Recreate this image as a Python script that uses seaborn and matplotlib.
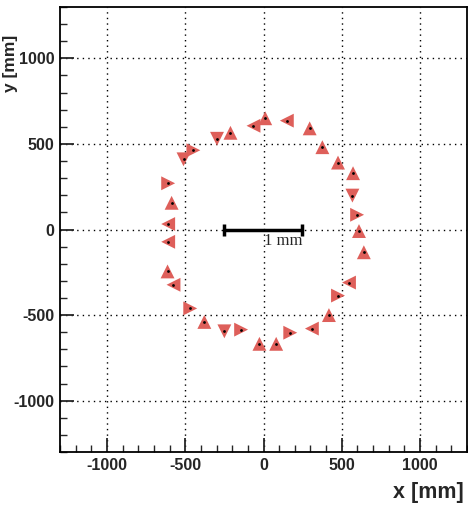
import numpy as np
import pandas as pd
import matplotlib
matplotlib.use("Agg")
import matplotlib.pyplot as plt
from matplotlib.ticker import MultipleLocator
import seaborn as sns

# ---- data ----
x_mm = [-64, -211, -297, -448, -511, -609, -587, -609,
        11, 149, 295, 376, 476, 572, 568, 598, 610,
        -609, -613, -575, -468, -378, -250, -143, -26,
        641, 546, 476, 418, 309, 171, 81]
y_mm = [606, 565, 530, 463, 410, 270, 156, 32,
        650, 636, 591, 481, 391, 329, 198, 86, -9,
        -72, -245, -323, -461, -540, -595, -585, -668,
        -133, -310, -386, -500, -579, -603, -668]
orient = ['<', '^', 'v', '>', 'v', '>', '^', '<',
          '^', '<', '^', '^', '^', '^', 'v', '>', '^',
          '<', '^', '<', '>', '^', 'v', '>', '^',
          '^', '<', '>', '^', '<', '>', '^']
scale_bar_x = [-250, 245]
scale_bar_label = "1 mm"
ticks = [-1000, -500, 0, 500, 1000]

df = pd.DataFrame({"x": x_mm, "y": y_mm, "o": orient})

sns.set_style("white")
plt.rcParams['font.family'] = ['Liberation Sans', 'DejaVu Sans']

fig = plt.figure(figsize=(4.68, 5.07), dpi=100)
ax = fig.add_axes([60/468, 1-452/507, 407/468, 445/507])

# grid
for t in ticks:
    ax.axvline(t, color='black', lw=1.0, ls=(0, (1, 3)), zorder=0)
    ax.axhline(t, color='black', lw=1.0, ls=(0, (1, 3)), zorder=0)

sns.scatterplot(data=df, x="x", y="y", style="o",
                markers={m: m for m in ['^', 'v', '<', '>']},
                color='#DE5F5A', s=100, linewidth=0, legend=False, ax=ax, zorder=3)
sns.scatterplot(data=df, x="x", y="y", color='black', s=4, linewidth=0,
                legend=False, ax=ax, zorder=4)

# scale bar
ax.plot(scale_bar_x, [0, 0], color='black', lw=2.5, zorder=5)
ax.plot(scale_bar_x, [0, 0], ls='none', marker='|', ms=8, mew=2.5, color='black', zorder=5)
ax.text(6, -18, scale_bar_label, ha='left', va='top', fontsize=12,
        family=['Liberation Serif'], zorder=5)

ax.set_xlim(-1300, 1300)
ax.set_ylim(-1300, 1300)
ax.set_xticks(ticks)
ax.set_yticks(ticks)
ax.xaxis.set_minor_locator(MultipleLocator(100))
ax.yaxis.set_minor_locator(MultipleLocator(100))
ax.set_xticklabels([str(t) for t in ticks], fontweight='bold', fontsize=11.5)
ax.set_yticklabels([str(t) for t in ticks], fontweight='bold', fontsize=11.5)
ax.tick_params(which='major', direction='in', length=10, width=1.3, pad=4,
               bottom=True, left=True, top=False, right=False)
ax.tick_params(which='minor', direction='in', length=5, width=1.0,
               bottom=True, left=True, top=False, right=False)
for s in ax.spines.values():
    s.set_visible(True)
    s.set_color('black')
    s.set_linewidth(1.3)
ax.set_xlabel("")
ax.set_ylabel("")

fig.text(464/468, 1-503/507, "x [mm]", ha='right', va='bottom',
         fontsize=15.5, fontweight='bold')
fig.text(10/468, 1-92/507, "y [mm]", ha='center', va='bottom', rotation=90,
         fontsize=12.5, fontweight='bold')

fig.savefig("out.png", dpi=100)
